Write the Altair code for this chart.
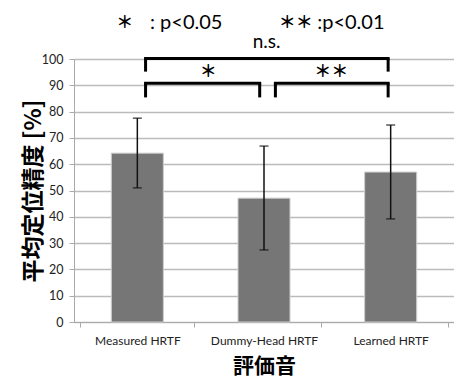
import altair as alt
import pandas as pd

categories = ["Measured HRTF", "Dummy-Head HRTF", "Learned HRTF"]
means = [64.2, 47.1, 57.0]
err_low = [51.0, 27.4, 39.2]
err_high = [77.5, 66.9, 74.9]
y_ticks = [0, 10, 20, 30, 40, 50, 60, 70, 80, 90, 100]

# significance brackets (x in category units 0..3, y in %)
br_x = [0.565, 0.565, 1.59]
br_x2 = [2.48, 1.466, 2.48]
br_y = [100.2, 90.8, 90.8]
br_leg = [95.2, 85.4, 85.4]
star_text = ["＊", "＊＊"]
star_x = [1.06, 2.03]
star_y = [95.0, 95.0]
ns_text = ["n.s."]
ns_x = [1.52]
ns_y = [106.6]
# legend line above the chart
leg_star = ["＊", "＊＊"]
leg_star_x = [0.40, 1.75]
leg_p = [": p<0.05", ":p<0.01"]
leg_p_x = [0.60, 1.92]
leg_y = [113.7, 113.7]

df = pd.DataFrame({"cat": categories, "mean": means, "lo": err_low, "hi": err_high})

hrows = [{"x": a, "x2": b, "y": y} for a, b, y in zip(br_x, br_x2, br_y)]
vrows = []
for a, b, y, l in zip(br_x, br_x2, br_y, br_leg):
    vrows.append({"x": a, "y": y, "y2": l})
    vrows.append({"x": b, "y": y, "y2": l})
hdf = pd.DataFrame(hrows)
vdf = pd.DataFrame(vrows)
sdf = pd.DataFrame({"t": star_text, "x": star_x, "y": star_y})
ndf = pd.DataFrame({"t": ns_text, "x": ns_x, "y": ns_y})
lsdf = pd.DataFrame({"t": leg_star, "x": leg_star_x, "y": leg_y})
lpdf = pd.DataFrame({"t": leg_p, "x": leg_p_x, "y": leg_y})

yscale = alt.Scale(domain=[0, 100])
xq = alt.Scale(domain=[0, 3])

xax = alt.Axis(
    title="評価音", titleFont="Noto Sans CJK JP", titleFontSize=21, titleFontWeight="bold",
    titleColor="#000", titlePadding=9,
    labelFont="Lato", labelFontSize=12, labelColor="#222", labelAngle=0, labelPadding=8,
    domainColor="#aaa", tickColor="#aaa", tickBand="extent", tickSize=5,
)
yax = alt.Axis(
    title="平均定位精度  [%]", titleFont="Noto Sans CJK JP", titleFontSize=23, titleFontWeight="bold",
    titleColor="#000", titlePadding=-4,
    values=y_ticks, tickCount=11, labelOverlap=False, labelFont="Lato", labelFontSize=12.5,
    labelColor="#222", gridColor="#bbbbbb", gridWidth=1.5, domainColor="#aaa",
    tickColor="#aaa", tickSize=5, labelPadding=6,
)

def cx():
    return alt.X("cat:N", sort=categories, axis=xax)

bars = alt.Chart(df).mark_bar(size=52, color="#767676", stroke="#cccccc", strokeWidth=1).encode(
    x=cx(), y=alt.Y("mean:Q", scale=yscale, axis=yax)
)
err = alt.Chart(df).mark_rule(color="#111", strokeWidth=1.5).encode(
    x=cx(), y=alt.Y("lo:Q", scale=yscale, axis=yax), y2="hi:Q"
)
caps_lo = alt.Chart(df).mark_tick(color="#111", thickness=1.5, size=9).encode(
    x=cx(), y=alt.Y("lo:Q", scale=yscale, axis=yax)
)
caps_hi = alt.Chart(df).mark_tick(color="#111", thickness=1.5, size=9).encode(
    x=cx(), y=alt.Y("hi:Q", scale=yscale, axis=yax)
)
base = alt.layer(bars, err, caps_lo, caps_hi)

def qx():
    return alt.X("x:Q", scale=xq, axis=None)

def qy():
    return alt.Y("y:Q", scale=yscale, axis=None)

hb = alt.Chart(hdf).mark_rule(color="#000", strokeWidth=3, strokeCap="square").encode(
    x=qx(), x2="x2:Q", y=qy()
)
vb = alt.Chart(vdf).mark_rule(color="#000", strokeWidth=3).encode(x=qx(), y=qy(), y2="y2:Q")
stars = alt.Chart(sdf).mark_text(font="Noto Sans CJK JP", fontSize=17, color="#000",
                                 baseline="middle", fontWeight="bold").encode(x=qx(), y=qy(), text="t:N")
ns = alt.Chart(ndf).mark_text(font="Lato", fontSize=19, color="#000",
                              baseline="middle").encode(x=qx(), y=qy(), text="t:N")
ls = alt.Chart(lsdf).mark_text(font="Noto Sans CJK JP", fontSize=17, color="#000",
                               baseline="middle", fontWeight="bold").encode(x=qx(), y=qy(), text="t:N")
lt = alt.Chart(lpdf).mark_text(font="Lato", fontSize=20, color="#000",
                               baseline="middle", align="left").encode(x=qx(), y=qy(), text="t:N")
ann = alt.layer(hb, vb, stars, ns, ls, lt)

chart = alt.layer(base, ann).resolve_scale(x="independent").resolve_axis(y="independent").properties(
    width=380, height=263,
    autosize=alt.AutoSizeParams(type="none"),
    padding={"left": 66, "top": 51, "right": 0, "bottom": 55},
).configure_view(stroke=None).configure(background="white")

chart.save("out.html", embed_options={"renderer": "svg", "actions": False})
